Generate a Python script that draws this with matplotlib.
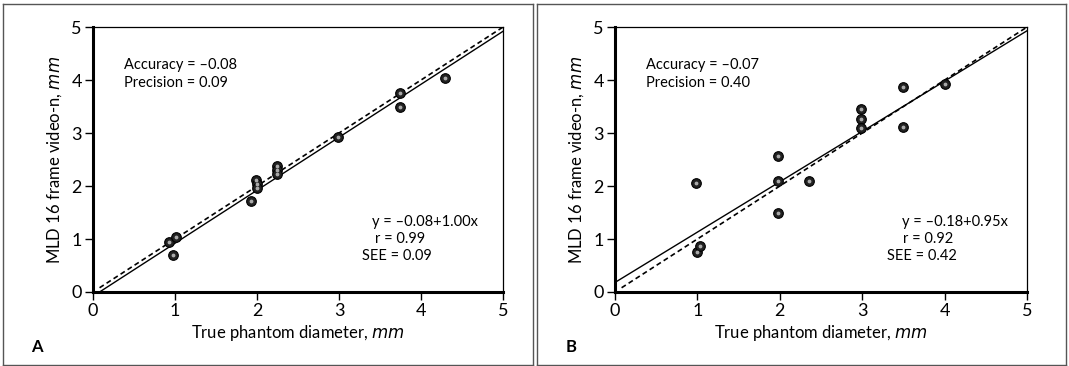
import numpy as np
import matplotlib.pyplot as plt
from matplotlib.lines import Line2D

plt.rcParams['font.family'] = ['Lato', 'DejaVu Sans']

# Panel A: true diameter vs. measured MLD
a_true = [0.93, 1.01, 0.98, 1.99, 2.00, 2.00, 1.93, 2.24, 2.24, 2.24, 2.99, 3.74, 3.74, 4.29]
a_meas = [0.95, 1.03, 0.69, 2.12, 2.04, 1.97, 1.72, 2.38, 2.30, 2.23, 2.93, 3.76, 3.49, 4.04]
a_fit = (-0.08, 1.00)
a_stats = ['Accuracy = \u20130.08', 'Precision = 0.09']
a_eq = ['y = \u20130.08+1.00x', 'r = 0.99', 'SEE = 0.09']

# Panel B
b_true = [0.98, 0.99, 1.03, 1.98, 1.98, 1.98, 2.35, 2.99, 2.99, 2.99, 3.50, 3.50, 4.00]
b_meas = [2.06, 0.76, 0.86, 2.57, 2.10, 1.49, 2.09, 3.45, 3.27, 3.09, 3.86, 3.12, 3.92]
b_fit = (0.18, 0.95)
b_stats = ['Accuracy = \u20130.07', 'Precision = 0.40']
b_eq = ['y = \u20130.18+0.95x', 'r = 0.92', 'SEE = 0.42']

ticks = [0, 1, 2, 3, 4, 5]


def draw_panel(ax, xs, ys, fit, stats, eq, eq_x):
    b0, b1 = fit
    # line of identity (dashed) and regression line (solid), kept above y=0
    x_id = np.linspace(0.08, 5, 50)
    ax.plot(x_id, x_id, color='black', lw=1.2, ls=(0, (3, 2)), zorder=2)
    x_start = max(0.0, -b0 / b1)
    x_fit = np.linspace(x_start, 5, 50)
    ax.plot(x_fit, b0 + b1 * x_fit, color='black', lw=1.0, zorder=2)
    ax.scatter(xs, ys, s=48, facecolor='#222222', edgecolor='black',
               linewidth=0.8, zorder=3)
    ax.scatter(xs, ys, s=3, color='#aaaaaa', zorder=4)

    ax.set_xlim(0, 5)
    ax.set_ylim(0, 5)
    ax.set_xticks(ticks)
    ax.set_yticks(ticks)
    ax.tick_params(direction='out', length=6, width=1.0, labelsize=13,
                   pad=2, colors='black')
    for side in ['top', 'right']:
        ax.spines[side].set_linewidth(0.9)
    for side in ['left', 'bottom']:
        ax.spines[side].set_linewidth(2.2)

    ax.set_xlabel('True phantom diameter, $\\it{mm}$', fontsize=12, labelpad=3)
    ax.set_ylabel('MLD 16 frame video-n, $\\it{mm}$', fontsize=12, labelpad=5)

    ax.text(0.38, 4.28, stats[0], fontsize=10.5, va='center', ha='left')
    ax.text(0.38, 3.94, stats[1], fontsize=10.5, va='center', ha='left')
    ax.text(eq_x[0], 1.33, eq[0], fontsize=10.5, va='center', ha='left')
    ax.text(eq_x[1], 1.00, eq[1], fontsize=10.5, va='center', ha='left')
    ax.text(eq_x[2], 0.67, eq[2], fontsize=10.5, va='center', ha='left')


fig = plt.figure(figsize=(10.69, 3.66), dpi=100)
ax_a = fig.add_axes([0.087, 0.2022, 0.3835, 0.7238])
ax_b = fig.add_axes([0.5753, 0.2022, 0.3854, 0.7238])

draw_panel(ax_a, a_true, a_meas, a_fit, a_stats, a_eq, (3.40, 3.44, 3.28))
draw_panel(ax_b, b_true, b_meas, b_fit, b_stats, b_eq, (3.48, 3.50, 3.30))

fig.text(37 / 1069, 1 - 347 / 366, 'A', fontsize=12, fontweight='bold',
         va='center', ha='center')
fig.text(571 / 1069, 1 - 347 / 366, 'B', fontsize=12, fontweight='bold',
         va='center', ha='center')

# panel frames
W, H = 1069, 366
def frame(x0, x1, y0, y1):
    for xs, ys in [([x0, x1], [y0, y0]), ([x0, x1], [y1, y1]),
                   ([x0, x0], [y0, y1]), ([x1, x1], [y0, y1])]:
        fig.add_artist(Line2D([x / W for x in xs], [1 - y / H for y in ys],
                              color='#555555', lw=1.0))

frame(3, 533, 4, 365)
frame(537, 1066, 4, 365)

fig.savefig('out.png', dpi=100)
